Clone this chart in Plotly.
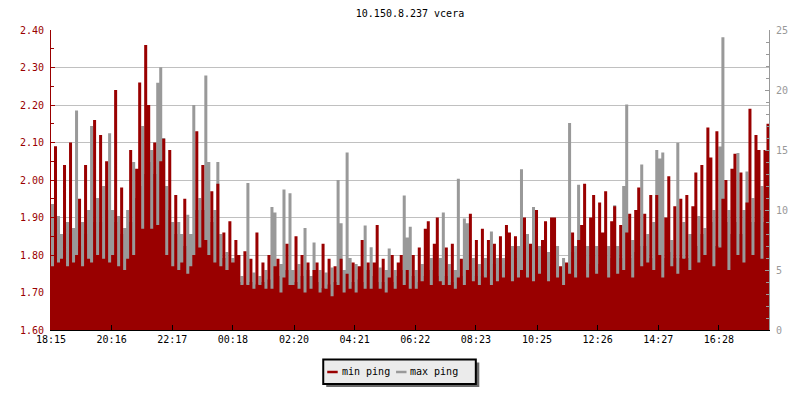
import pandas as pd
import plotly.graph_objects as go

title_text = "10.150.8.237 vcera"
series_names = ["min ping", "max ping"]
start_time = "2024-01-01 18:15"
sample_minutes = 6
visible_minutes = 1433

# min ping (ms, left axis), one value per 6-minute sample
min_ping = [
    1.77, 2.09, 1.78, 1.79, 2.04, 1.77, 2.10, 1.78, 1.80, 1.95,
    1.77, 2.04, 1.79, 1.78, 2.16, 1.80, 2.12, 1.79, 2.05, 1.78,
    1.80, 2.24, 1.77, 1.98, 1.76, 1.79, 2.08, 1.80, 2.03, 2.26,
    1.87, 2.36, 2.20, 1.87, 2.10, 1.88, 2.05, 2.11, 1.80, 2.08,
    1.77, 1.96, 1.76, 1.78, 1.95, 1.75, 1.77, 1.80, 2.13, 1.82,
    2.04, 1.84, 1.80, 1.97, 1.78, 1.99, 1.77, 1.86, 1.76, 1.89,
    1.78, 1.84, 1.80, 1.72, 1.81, 1.72, 1.79, 1.71, 1.86, 1.72,
    1.78, 1.71, 1.80, 1.71, 1.77, 1.79, 1.70, 1.74, 1.83, 1.72,
    1.72, 1.85, 1.71, 1.80, 1.70, 1.78, 1.71, 1.76, 1.78, 1.70,
    1.83, 1.71, 1.79, 1.69, 1.77, 1.72, 1.79, 1.70, 1.75, 1.71,
    1.78, 1.70, 1.77, 1.84, 1.71, 1.78, 1.71, 1.78, 1.88, 1.71,
    1.79, 1.70, 1.74, 1.80, 1.71, 1.78, 1.80, 1.72, 1.76, 1.71,
    1.80, 1.71, 1.82, 1.73, 1.87, 1.89, 1.72, 1.83, 1.90, 1.73,
    1.72, 1.82, 1.72, 1.83, 1.71, 1.74, 1.79, 1.72, 1.76, 1.91,
    1.73, 1.84, 1.72, 1.87, 1.74, 1.84, 1.72, 1.83, 1.73, 1.85,
    1.74, 1.88, 1.86, 1.73, 1.85, 1.74, 1.76, 1.90, 1.74, 1.83,
    1.73, 1.92, 1.75, 1.84, 1.89, 1.73, 1.90, 1.90, 1.74, 1.77,
    1.72, 1.78, 1.75, 1.86, 1.74, 1.84, 1.88, 1.99, 1.74, 1.90,
    1.96, 1.75, 1.94, 1.86, 1.97, 1.74, 1.89, 1.93, 1.75, 1.88,
    1.76, 1.86, 1.91, 1.74, 1.92, 1.98, 1.77, 1.91, 1.78, 1.96,
    1.76, 1.96, 1.80, 1.74, 1.90, 2.01, 1.77, 1.93, 1.75, 1.95,
    1.79, 1.96, 1.76, 1.93, 2.02, 1.78, 2.04, 1.80, 2.14, 2.06,
    1.77, 2.13, 1.82, 1.95, 2.00, 1.76, 2.03, 2.07, 1.80, 2.02,
    1.78, 1.94, 2.19, 1.80, 2.12, 2.08, 1.79, 2.08, 2.15, 1.82,
]

# max ping (ms, right axis)
max_ping = [
    10.5, 9, 9.5, 8, 8.5, 9, 8, 8.5, 18.3, 7,
    9, 8, 10, 17, 9, 11, 9, 12, 10, 16.4,
    10, 9, 9.5, 8, 8.5, 10, 9, 14, 11, 12,
    17, 13, 14, 15, 13, 20.6, 21.9, 16, 12, 10,
    9, 8, 9, 8, 7, 9.6, 8, 18.75, 10, 11,
    10, 21.2, 14, 9, 10, 14, 8, 6, 6.5, 5,
    6, 4.5, 4, 4.5, 3.8, 12.25, 4, 4.8, 3.8, 4.5,
    4, 5, 4.2, 10.25, 9.8, 4.5, 5.5, 11.7, 5, 11.4,
    5, 4, 5.5, 4.5, 8.5, 5, 4.5, 7.3, 4, 5,
    3.5, 4.8, 3.8, 5.2, 4, 12.5, 8.9, 5, 14.8, 6,
    4, 5.5, 4.2, 4, 8.7, 5, 6.9, 4.5, 4, 5.2,
    4, 5, 6.8, 4, 5, 4.5, 5, 11.2, 7.7, 8.6,
    4.5, 5, 4, 5.5, 4.5, 5, 6, 5, 4.5, 6,
    9.8, 4.5, 5.5, 4, 5, 12.6, 4.5, 9.3, 8.9, 5,
    6, 4.5, 5.5, 4.5, 6, 5, 8.2, 5.5, 6, 5,
    6, 5.5, 6.5, 7, 6, 7, 13.4, 7, 8, 6.5,
    10.25, 6, 7, 6, 9, 6.5, 5.5, 6, 7, 5,
    6, 5.5, 17.25, 6.5, 7, 12.1, 6, 5, 7, 5.5,
    5, 7, 5.5, 6, 5, 7, 6, 10.4, 7, 6,
    12, 18.8, 6, 7.5, 6.5, 7, 13.8, 7, 8, 6,
    9, 15, 14.3, 14.8, 6, 6.5, 7.5, 6, 15.6, 6,
    9, 6, 8, 8, 7, 9.5, 8, 8.5, 6, 9,
    10, 7, 15.3, 24.4, 9, 10, 8, 9, 14.75, 8,
    10, 13.2, 9, 11, 9, 10, 12, 9, 10, 13,
]

tick_labels = ["18:15", "20:16", "22:17", "00:18", "02:20", "04:21",
               "06:22", "08:23", "10:25", "12:26", "14:27", "16:28"]

RED = "#990000"
GRAY = "#999999"
MONO = "DejaVu Sans Mono"

# page-pixel geometry of the plot area (the page body has an 8px margin)
BODY = 8
PLOT_L, PLOT_R, PLOT_T, PLOT_B = 50, 770, 30, 330
PLOT_W, PLOT_H = PLOT_R - PLOT_L, PLOT_B - PLOT_T
FIG_W, FIG_H = 800 - BODY, 400 - BODY


def fx(px):
    return (px - PLOT_L) / PLOT_W


def fy(py):
    return (PLOT_B - py) / PLOT_H


base = pd.Timestamp(start_time)
times = pd.date_range(base, periods=len(min_ping), freq=f"{sample_minutes}min")
tick_vals = []
for lab in tick_labels:
    t = pd.Timestamp(base.strftime("%Y-%m-%d") + " " + lab)
    if t < base:
        t += pd.Timedelta(days=1)
    tick_vals.append(t)

fig = go.Figure()
fig.add_trace(go.Scatter(
    x=times, y=max_ping, yaxis="y", mode="lines", name=series_names[1],
    line=dict(width=0, shape="hv", color=GRAY),
    fill="tozeroy", fillcolor=GRAY, showlegend=False, hoverinfo="skip"))
fig.add_trace(go.Scatter(
    x=times, y=min_ping, yaxis="y2", mode="lines", name=series_names[0],
    line=dict(width=0, shape="hv", color=RED),
    fill="tozeroy", fillcolor=RED, showlegend=False, hoverinfo="skip"))

# legend box drawn like the original (shadowed panel with short swatches)
shapes = [
    dict(type="rect", xref="paper", yref="paper", x0=fx(326), x1=fx(479.5),
         y0=fy(387), y1=fy(362.5), fillcolor="#6a6a6a", line=dict(width=0), layer="above"),
    dict(type="rect", xref="paper", yref="paper", x0=fx(323), x1=fx(476),
         y0=fy(384), y1=fy(359.5), fillcolor="#ebebeb", line=dict(color="black", width=2),
         layer="above"),
    dict(type="line", xref="paper", yref="paper", x0=fx(327), x1=fx(337.5),
         y0=fy(372), y1=fy(372), line=dict(color=RED, width=2.5), layer="above"),
    dict(type="line", xref="paper", yref="paper", x0=fx(396), x1=fx(406.5),
         y0=fy(372), y1=fy(372), line=dict(color=GRAY, width=2.5), layer="above"),
]
annotations = [
    dict(text=series_names[0], xref="paper", yref="paper", x=fx(340), y=fy(371),
         xanchor="left", yanchor="middle", showarrow=False,
         font=dict(family=MONO, size=10, color="black")),
    dict(text=series_names[1], xref="paper", yref="paper", x=fx(408), y=fy(371),
         xanchor="left", yanchor="middle", showarrow=False,
         font=dict(family=MONO, size=10, color="black")),
]

fig.update_layout(
    width=FIG_W, height=FIG_H,
    margin=dict(l=PLOT_L - BODY, r=FIG_W - (PLOT_R - BODY), t=PLOT_T - BODY,
                b=FIG_H - (PLOT_B - BODY)),
    paper_bgcolor="white", plot_bgcolor="white",
    font=dict(family=MONO, size=10, color="black"),
    title=dict(text=title_text, x=0.5, xref="paper", xanchor="center",
               y=1 - (13 - BODY) / FIG_H, yanchor="middle", yref="container",
               font=dict(family=MONO, size=10, color="black")),
    showlegend=False,
    shapes=shapes, annotations=annotations,
    xaxis=dict(
        type="date", range=[base, base + pd.Timedelta(minutes=visible_minutes)],
        tickvals=tick_vals, ticktext=tick_labels,
        ticks="inside", ticklen=5, tickcolor="black",
        showline=True, linecolor="black", linewidth=1,
        showgrid=False, zeroline=False,
        tickfont=dict(family=MONO, size=10, color="black"),
    ),
    yaxis=dict(
        side="right", range=[0, 25], tick0=0, dtick=5,
        ticks="inside", ticklen=4, tickcolor=GRAY,
        showline=True, linecolor=GRAY, linewidth=1,
        showgrid=False, zeroline=False, ticklabelstandoff=4,
        tickfont=dict(family=MONO, size=10, color=GRAY),
        minor=dict(dtick=1, ticks="inside", ticklen=3, tickcolor=GRAY, showgrid=False),
    ),
    yaxis2=dict(
        overlaying="y", side="left", range=[1.6, 2.4], tick0=1.6, dtick=0.1,
        tickformat=".2f",
        ticks="inside", ticklen=4, tickcolor=RED,
        showline=True, linecolor=RED, linewidth=1,
        showgrid=True, gridcolor="#c0c0c0", gridwidth=1, zeroline=False,
        ticklabelstandoff=4,
        tickfont=dict(family=MONO, size=10, color=RED),
        minor=dict(dtick=0.05, ticks="inside", ticklen=3, tickcolor=RED, showgrid=False),
    ),
)

fig.write_html("out.html")
